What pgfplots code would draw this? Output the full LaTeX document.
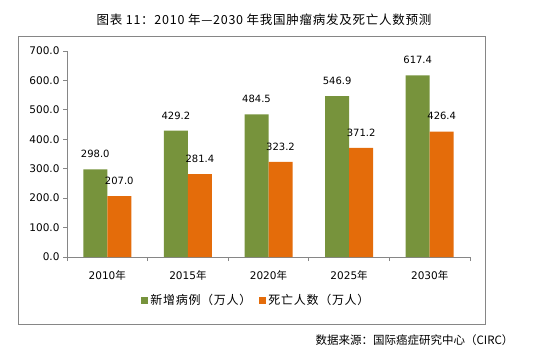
\documentclass[border=0pt]{standalone}
\usepackage{pgfplots}
\pgfplotsset{compat=1.18}
\usepackage{fontspec}
\setmainfont{DejaVu Sans}
\newfontfamily\cjk{Noto Sans CJK SC}
\newfontfamily\cjkw{Noto Sans CJK SC}[LetterSpace=6]
\definecolor{cgreen}{HTML}{77933C}
\definecolor{corange}{HTML}{E46C0A}
\definecolor{cgray}{HTML}{868686}
\begin{document}
\begin{tikzpicture}
\path (0,0) rectangle (537pt,354pt);
\draw[cgray, line width=0.8pt] (18pt,30pt) rectangle (485pt,318pt);
\node[font=\cjkw\fontsize{12.5}{14}\selectfont] at (264pt,334pt) {图表 11：2010 年—2030 年我国肿瘤病发及死亡人数预测};
\node[font=\cjk\fontsize{11.5}{13}\selectfont, anchor=east] at (517pt,14pt) {数据来源：国际癌症研究中心（CIRC）};
\begin{axis}[
  at={(67pt,97pt)}, anchor=south west,
  scale only axis, width=403pt, height=206pt,
  ybar=0pt, bar width=24pt,
  xmin=-0.5, xmax=4.5, ymin=0, ymax=700,
  axis lines=left, axis line style={cgray, line width=0.8pt, -},
  xtick={0,1,2,3,4},
  xticklabels={2010{\cjk 年},2015{\cjk 年},2020{\cjk 年},2025{\cjk 年},2030{\cjk 年}},
  major x tick style={draw=none},
  minor xtick={-0.5,0.5,1.5,2.5,3.5,4.5},
  minor tick length=4pt,
  x tick style={cgray, line width=0.8pt},
  ytick={0,100,...,700},
  y tick style={cgray, line width=0.8pt},
  major tick length=4pt,
  tick align=outside,
  tick label style={font=\fontsize{10.5}{12}\selectfont},
  /pgf/number format/assume math mode=true,
  yticklabel style={/pgf/number format/fixed, /pgf/number format/fixed zerofill, /pgf/number format/precision=1},
  xticklabel style={yshift=-6pt},
  nodes near coords,
  nodes near coords style={font=\fontsize{10}{11}\selectfont, black, yshift=8pt, /pgf/number format/fixed, /pgf/number format/fixed zerofill, /pgf/number format/precision=1, /pgf/number format/assume math mode=true},
  legend columns=2,
  legend style={at={(0.47,-0.209)}, anchor=center, draw=none, font=\cjkw\fontsize{12}{13}\selectfont,
    /tikz/every even column/.append style={column sep=6pt}},
  legend image code/.code={\fill[#1] (0pt,-3.5pt) rectangle (7pt,3.5pt);},
]
\addplot[fill=cgreen, draw=none] coordinates {(0,298.0) (1,429.2) (2,484.5) (3,546.9) (4,617.4)};
\addplot[fill=corange, draw=none] coordinates {(0,207.0) (1,281.4) (2,323.2) (3,371.2) (4,426.4)};
\legend{新增病例（万人）,死亡人数（万人）}
\end{axis}
\pgfresetboundingbox
\useasboundingbox (0,0) rectangle (537pt,354pt);
\end{tikzpicture}
\end{document}
